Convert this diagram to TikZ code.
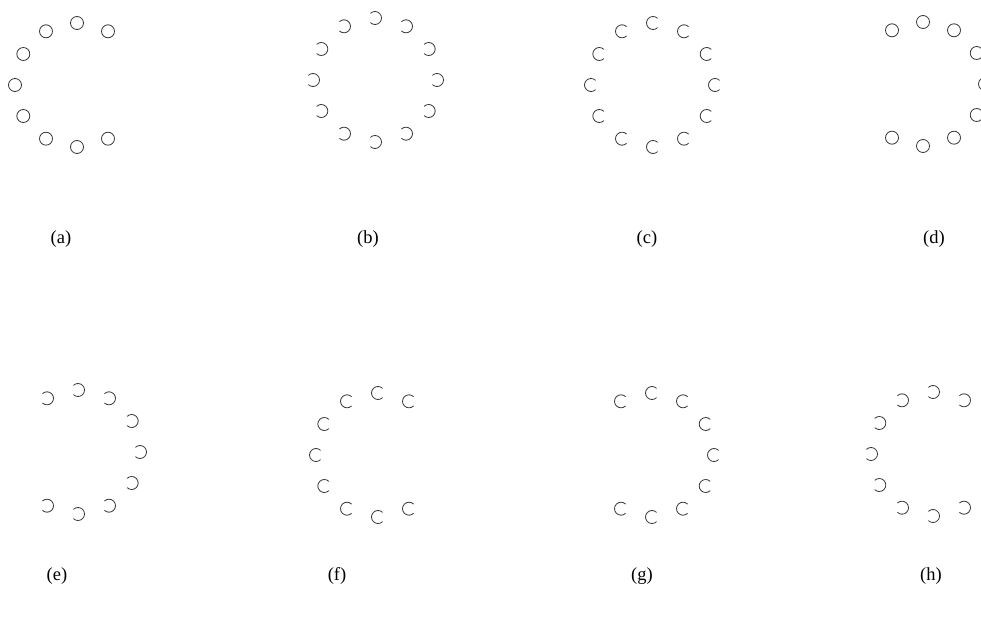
\documentclass[tikz,border=0pt]{standalone}
\usepackage{fontspec}
\setmainfont{Liberation Serif}
\definecolor{ink}{HTML}{363636}
\tikzset{ringline/.style={draw=ink,line width=0.8pt},
  caption/.style={font=\fontsize{18.5}{20}\selectfont,inner sep=0pt}}
\begin{document}
\begin{tikzpicture}[x=1pt,y=1pt]
\useasboundingbox (0,0) rectangle (981,622);
% rings: name/centre x/centre y/arc start/arc end/positions/label x/label y
\foreach \n/\cx/\cy/\sa/\ea/\angs/\lx/\ly in {a/77/537/0/360/{60,90,...,300}/61/383,
  b/375/542/135/-135/{0,30,...,330}/368/383,
  c/653/537/45/315/{0,30,...,330}/647/383,
  d/923/538/0/360/{-120,-90,...,120}/934/383,
  e/78/170/135/-135/{-120,-90,...,120}/57/46,
  f/378/167/45/315/{60,90,...,300}/337/46,
  g/652/167/45/315/{-120,-90,...,120}/642/46,
  h/933/168/135/-135/{60,90,...,300}/931/46}{
  \foreach \t in \angs {\draw[ringline] (\cx,\cy) ++(\t:62) ++(\sa:6.5) arc[start angle=\sa,end angle=\ea,radius=6.5];}
  \node[caption] (lab-\n) at (\lx,\ly) {(\n)};
}
\end{tikzpicture}
\end{document}
